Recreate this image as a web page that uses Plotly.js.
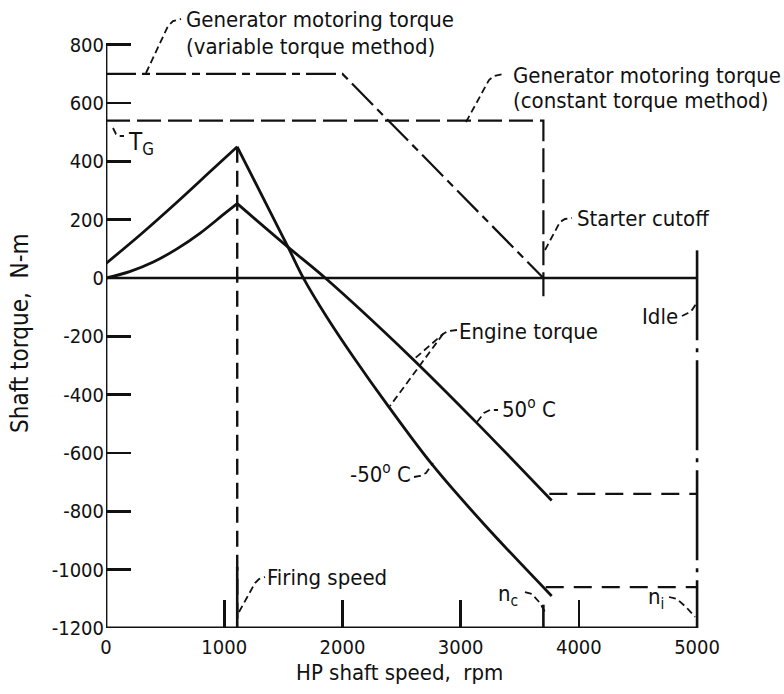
<!DOCTYPE html>
<html>
<head>
<meta charset="utf-8">
<script src="https://cdn.plot.ly/plotly-3.0.1.min.js"></script>
<style>html,body{margin:0;padding:0;background:#fff}#chart{width:784px;height:694px}</style>
</head>
<body>
<div id="chart"></div>
<script>
// ---- data ----
const speedTicks = [0, 1000, 2000, 3000, 4000, 5000];
const speedTickText = ['0', '1000', '2000', '3000', '4000', '5000'];
const torqueTicks = [-1200, -1000, -800, -600, -400, -200, 0, 200, 400, 600, 800];
const torqueTickText = ['-1200', '-1000', '-800', '-600', '-400', '-200', '0', '200', '400', '600', '800'];

// Generator motoring torque, variable torque method
const varTorqueSpeed = [0, 2000, 3700];
const varTorqueValue = [700, 700, 0];
// Generator motoring torque, constant torque method (T_G)
const constTorqueSpeed = [0, 3700, 3700];
const constTorqueValue = [540, 540, -85];
// Net shaft torque, -50 C (rise to firing speed, then fall)
const coldRiseSpeed = [0, 300, 600, 900, 1110];
const coldRiseTorque = [50, 152, 260, 372, 450];
const coldFallSpeed = [1110, 1540, 1670, 1870, 2100, 2380, 2760, 3200, 3770];
const coldFallTorque = [450, 106, 0, -135, -275, -435, -640, -845, -1090];
// Net shaft torque, 50 C
const hotRiseSpeed = [0, 200, 400, 600, 800, 1000, 1110];
const hotRiseTorque = [0, 22, 55, 100, 155, 220, 255];
const hotFallSpeed = [1110, 1540, 1855, 2570, 3130, 3770];
const hotFallTorque = [255, 106, 0, -268, -494, -763];

const firingSpeed = 1110;
const starterCutoff = 3700;
const idleSpeed = 5000;
const hotIdleLevel = [3750, 5000];
const hotIdleTorque = -740;
const coldIdleLevel = [3720, 5000];
const coldIdleTorque = -1060;

// ---- layout geometry ----
const W = 784, H = 694;
const M = {l: 106, r: 16, t: 1, b: 66};
const XR = [0, 5600], YR = [-1200, 950];
const pw = W - M.l - M.r, ph = H - M.t - M.b;
function dx(px) { return XR[0] + (px - M.l) / pw * (XR[1] - XR[0]); }
function dy(py) { return YR[1] - (py - M.t) / ph * (YR[1] - YR[0]); }
function qx(px) { return (px - M.l) / pw; }
function qy(py) { return 1 - (py - M.t) / ph; }
function path(pts) {
  return pts.map((p, i) => (i ? 'L' : 'M') + dx(p[0]).toFixed(1) + ',' + dy(p[1]).toFixed(1)).join(' ');
}

const FONT = '"DejaVu Sans Condensed", "Liberation Sans Narrow", "DejaVu Sans", sans-serif';
const black = '#111';

function tr(x, y, dash, width, shape) {
  return {x: x, y: y, type: 'scatter', mode: 'lines', hoverinfo: 'skip',
          line: {color: black, width: width || 2.6, dash: dash || 'solid', shape: shape || 'linear', smoothing: 1},
          showlegend: false};
}

const traces = [
  tr([0, 0], [torqueTicks[0], torqueTicks[torqueTicks.length - 1]], 'solid', 2.8),
  tr([speedTicks[0], speedTicks[speedTicks.length - 1]], [torqueTicks[0], torqueTicks[0]], 'solid', 2.8),
  tr([speedTicks[0], speedTicks[speedTicks.length - 1]], [0, 0], 'solid', 2.4),
  tr(varTorqueSpeed, varTorqueValue, '30px,6px,8px,6px', 2.2),
  tr(constTorqueSpeed, constTorqueValue, '24px,7px', 2.2),
  tr(coldRiseSpeed, coldRiseTorque, 'solid', 2.8, 'spline'),
  tr(coldFallSpeed, coldFallTorque, 'solid', 2.8, 'spline'),
  tr(hotRiseSpeed, hotRiseTorque, 'solid', 2.8, 'spline'),
  tr(hotFallSpeed, hotFallTorque, 'solid', 2.8, 'spline'),
  tr([firingSpeed, firingSpeed], [450, torqueTicks[0]], '16px,8px', 2.4),
  tr([firingSpeed, firingSpeed], [-990, torqueTicks[0]], 'solid', 2.6),
  tr([starterCutoff, starterCutoff], [-1120, torqueTicks[0]], 'solid', 2.6),
  tr([idleSpeed, idleSpeed], [95, torqueTicks[0]], '90px,8px,4px,8px', 2.6),
  tr(hotIdleLevel, [hotIdleTorque, hotIdleTorque], '18px,10px', 2.2),
  tr(coldIdleLevel, [coldIdleTorque, coldIdleTorque], '18px,10px', 2.2)
];

const leaders = [
  [[146,73],[168,26],[173,21],[181,19]],
  [[466,122],[489,80],[494,76],[503,74]],
  [[113,128],[116,134],[119,136],[124,136]],
  [[545,250],[560,222],[565,219],[572,218]],
  [[682,316],[688,313],[692,310],[696,304]],
  [[457,330],[448,331],[443,334],[413,360]],
  [[443,334],[390,406]],
  [[477,422],[484,413],[490,410],[498,410]],
  [[414,477],[420,476],[426,473],[433,463]],
  [[239,612],[255,583],[259,579],[265,577]],
  [[525,592],[532,594],[540,603],[546,614]],
  [[669,597],[677,599],[687,608],[695,617]]
];
const shapes = leaders.map(p => ({type: 'path', xref: 'x', yref: 'y', path: path(p),
  line: {color: black, width: 1.8, dash: '7px,4px'}}));

function ann(text, px, py, xanchor, extra) {
  return Object.assign({text: text, x: qx(px), y: qy(py), xref: 'paper', yref: 'paper',
    xanchor: xanchor || 'left', yanchor: 'middle', showarrow: false, align: 'left',
    font: {family: FONT, size: 22, color: black}}, extra || {});
}
const annotations = [
  ann('Generator motoring torque', 184, 19),
  ann('(variable torque method)', 184, 46),
  ann('Generator motoring torque', 511, 75),
  ann('(constant torque method)', 511, 101),
  ann('T<sub>G</sub>', 126, 143, 'left', {font: {family: FONT, size: 24, color: black}}),
  ann('Starter cutoff', 575, 218),
  ann('Idle', 680, 316, 'right'),
  ann('Engine torque', 457, 331),
  ann('50<sup>o</sup> C', 500, 408),
  ann('-50<sup>o</sup> C', 413, 473, 'right'),
  ann('Firing speed', 265, 577),
  ann('n<sub>c</sub>', 496, 595),
  ann('n<sub>i</sub>', 646, 598),
  ann('Shaft torque,  N-m', 20, 334, 'center', {textangle: -90, font: {family: FONT, size: 24, color: black}}),
  ann('HP shaft speed,  rpm', 399, 672, 'center')
];

const layout = {
  width: W, height: H, margin: M, paper_bgcolor: '#fff', plot_bgcolor: '#fff',
  showlegend: false,
  font: {family: FONT, size: 20, color: black},
  xaxis: {range: XR, tickmode: 'array', tickvals: speedTicks, ticktext: speedTickText,
          ticks: 'inside', ticklen: 28, tickwidth: 2.6, tickcolor: black,
          showgrid: false, zeroline: false, showline: false, ticklabelstandoff: 5,
          tickfont: {family: FONT, size: 20, color: black}, fixedrange: true},
  yaxis: {range: YR, tickmode: 'array', tickvals: torqueTicks, ticktext: torqueTickText,
          ticks: 'inside', ticklen: 25, tickwidth: 2.6, tickcolor: black,
          showgrid: false, zeroline: false, showline: false, ticklabelstandoff: 1,
          tickfont: {family: FONT, size: 20, color: black}, fixedrange: true},
  shapes: shapes,
  annotations: annotations
};

Plotly.newPlot('chart', traces, layout, {staticPlot: true, displayModeBar: false});
</script>
</body>
</html>
